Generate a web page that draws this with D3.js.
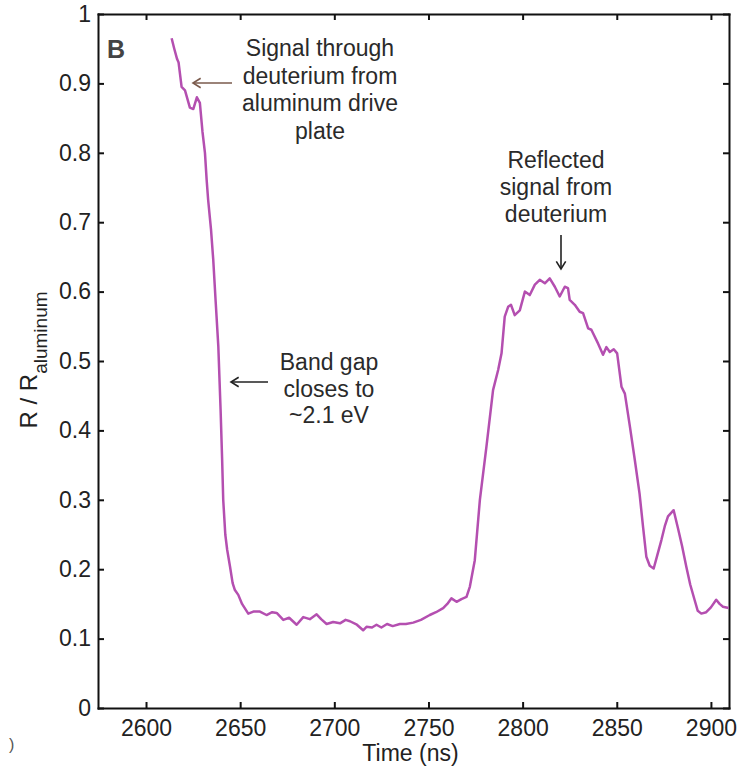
<!DOCTYPE html>
<html>
<head>
<meta charset="utf-8">
<script src="https://cdn.jsdelivr.net/npm/d3@7"></script>
<style>
  body { margin: 0; background: #fff; }
  svg { display: block; font-family: "Liberation Sans", Arial, Helvetica, sans-serif; }
  .axis path, .axis line { stroke: #111; stroke-width: 2; }
  .axis text { font-size: 23px; fill: #222; font-family: "Liberation Sans", Arial, Helvetica, sans-serif; }
  .note { font-size: 23px; fill: #2a2a2a; text-anchor: middle; }
</style>
</head>
<body>
<svg id="chart" width="738" height="768"></svg>
<script>
'use strict';

// trace: time (ns) and R / R_aluminum
var timeNs = [
  2613.6, 2615.0, 2616.5, 2617.3, 2618.9, 2620.7, 2623.3, 2625.1, 2627.0, 2628.6,
  2630.0, 2631.3, 2632.2, 2633.0, 2634.5, 2635.7, 2637.0, 2638.4, 2639.6, 2640.4,
  2641.0, 2642.1, 2643.1, 2644.6, 2646.0, 2647.2, 2649.0, 2651.0, 2654.3, 2657.0,
  2660.5, 2664.0, 2667.0, 2669.4, 2672.9, 2676.0, 2680.0, 2683.5, 2687.0, 2690.6,
  2693.0, 2695.9, 2699.4, 2703.0, 2706.0, 2708.3, 2712.0, 2715.3, 2717.1, 2720.0,
  2722.4, 2725.0, 2728.0, 2731.0, 2734.8, 2738.0, 2741.9, 2746.0, 2750.7, 2754.0,
  2757.8, 2760.0, 2762.2, 2764.9, 2767.5, 2770.2, 2772.0, 2774.6, 2777.3, 2780.8,
  2784.3, 2787.0, 2788.8, 2790.5, 2792.3, 2793.8, 2795.8, 2798.5, 2801.2, 2803.8,
  2806.5, 2809.1, 2811.8, 2814.4, 2817.1, 2819.7, 2822.4, 2824.1, 2825.0, 2827.7,
  2830.3, 2832.1, 2834.8, 2836.5, 2840.1, 2842.7, 2844.5, 2846.3, 2848.4, 2850.2,
  2852.5, 2854.3, 2857.0, 2859.6, 2862.1, 2864.0, 2865.7, 2867.5, 2869.6, 2871.5,
  2873.7, 2875.5, 2877.2, 2880.2, 2882.5, 2884.7, 2886.9, 2889.0, 2891.3, 2893.0,
  2894.9, 2897.5, 2900.0, 2902.8, 2904.6, 2906.4, 2909.4
];
var ratio = [
  0.965, 0.950, 0.935, 0.930, 0.895, 0.890, 0.865, 0.863, 0.880, 0.872,
  0.830, 0.800, 0.761, 0.732, 0.690, 0.646, 0.585, 0.521, 0.430, 0.360,
  0.300, 0.250, 0.228, 0.204, 0.180, 0.170, 0.163, 0.150, 0.136, 0.139,
  0.139, 0.134, 0.138, 0.137, 0.127, 0.130, 0.120, 0.131, 0.128, 0.135,
  0.128, 0.121, 0.124, 0.122, 0.127, 0.125, 0.120, 0.112, 0.117, 0.116,
  0.120, 0.116, 0.121, 0.118, 0.121, 0.121, 0.123, 0.127, 0.134, 0.138,
  0.144, 0.150, 0.158, 0.153, 0.157, 0.160, 0.175, 0.213, 0.300, 0.377,
  0.458, 0.487, 0.511, 0.564, 0.578, 0.581, 0.566, 0.573, 0.600, 0.595,
  0.610, 0.617, 0.612, 0.619, 0.607, 0.593, 0.607, 0.605, 0.588, 0.581,
  0.571, 0.569, 0.547, 0.545, 0.525, 0.509, 0.520, 0.513, 0.517, 0.511,
  0.463, 0.453, 0.405, 0.357, 0.309, 0.260, 0.218, 0.205, 0.201, 0.220,
  0.242, 0.262, 0.276, 0.285, 0.259, 0.233, 0.204, 0.178, 0.156, 0.140,
  0.136, 0.138, 0.145, 0.156, 0.150, 0.146, 0.144
];

var xTicks = [2600, 2650, 2700, 2750, 2800, 2850, 2900];
var yTicks = [0, 0.1, 0.2, 0.3, 0.4, 0.5, 0.6, 0.7, 0.8, 0.9, 1];

// annotations, one entry per text line
var noteSignal = ["Signal through", "deuterium from", "aluminum drive", "plate"];
var noteReflected = ["Reflected", "signal from", "deuterium"];
var noteBandGap = ["Band gap", "closes to", "~2.1 eV"];

var svg = d3.select('#chart');
var margin = {top: 14, right: 9, bottom: 60, left: 98};
var width = 738, height = 768;

var x = d3.scaleLinear()
  .domain([2574.5, 2909.6])
  .range([margin.left, width - margin.right]);

var y = d3.scaleLinear()
  .domain([0, 1])
  .range([height - margin.bottom, margin.top]);

// axes, matlab style box with ticks pointing inward
svg.append("g")
  .attr("class", "axis")
  .attr("transform", "translate(0," + y(0) + ")")
  .call(d3.axisBottom(x).tickValues(xTicks).tickFormat(d3.format("d"))
    .tickSizeInner(-6).tickSizeOuter(0).tickPadding(12));

svg.append("g")
  .attr("class", "axis")
  .attr("transform", "translate(0," + y(1) + ")")
  .call(d3.axisTop(x).tickValues(xTicks).tickFormat("")
    .tickSizeInner(-6).tickSizeOuter(0));

svg.append("g")
  .attr("class", "axis")
  .attr("transform", "translate(" + x.range()[0] + ",0)")
  .call(d3.axisLeft(y).tickValues(yTicks).tickFormat(function(d) { return String(+d.toFixed(1)); })
    .tickSizeInner(-6).tickSizeOuter(0).tickPadding(7));

svg.append("g")
  .attr("class", "axis")
  .attr("transform", "translate(" + x.range()[1] + ",0)")
  .call(d3.axisRight(y).tickValues(yTicks).tickFormat("")
    .tickSizeInner(-6).tickSizeOuter(0));

svg.selectAll(".axis .domain").attr("stroke-linecap", "square");

// the trace
var line = d3.line()
  .x(function(d, i) { return x(timeNs[i]); })
  .y(function(d) { return y(d); });

svg.append("path")
  .datum(ratio)
  .attr("fill", "none")
  .attr("stroke", "#b44fb0")
  .attr("stroke-width", 2.5)
  .attr("stroke-linejoin", "round")
  .attr("d", line);

// axis titles
svg.append("text")
  .attr("x", (x.range()[0] + x.range()[1]) / 2 - 3)
  .attr("y", 761)
  .attr("text-anchor", "middle")
  .attr("font-size", 23)
  .attr("fill", "#222")
  .text("Time (ns)");

var ylab = svg.append("text")
  .attr("transform", "translate(37,360) rotate(-90)")
  .attr("text-anchor", "middle")
  .attr("font-size", 24)
  .attr("fill", "#222");
ylab.append("tspan").text("R / R");
ylab.append("tspan").attr("font-size", 19).attr("dy", 10).text("aluminum");

// panel letter
svg.append("text")
  .attr("x", 107)
  .attr("y", 58)
  .attr("font-size", 25)
  .attr("font-weight", "bold")
  .attr("fill", "#444")
  .text("B");

svg.append("text")
  .attr("x", 9)
  .attr("y", 750)
  .attr("font-size", 16)
  .attr("fill", "#555")
  .text(")");

function note(lines, cx, firstBase, step) {
  var t = svg.append("text").attr("class", "note");
  lines.forEach(function(s, i) {
    t.append("tspan").attr("x", cx).attr("y", firstBase + i * step).text(s);
  });
}

function arrow(x1, y1, x2, y2, color) {
  // x2,y2 is the head
  var a = Math.atan2(y2 - y1, x2 - x1), len = 9, spread = 0.55;
  var g = svg.append("g").attr("stroke", color).attr("stroke-width", 1.6).attr("fill", "none");
  g.append("line").attr("x1", x1).attr("y1", y1).attr("x2", x2).attr("y2", y2);
  g.append("polyline").attr("points", [
    [x2 - len * Math.cos(a - spread), y2 - len * Math.sin(a - spread)],
    [x2, y2],
    [x2 - len * Math.cos(a + spread), y2 - len * Math.sin(a + spread)]
  ].map(function(p) { return p.join(","); }).join(" "));
}

note(noteSignal, 320, 56, 27.7);
arrow(232, 83, 193, 83, "#7a5a4c");

note(noteReflected, 556, 168, 27);
arrow(561, 235, 561, 269, "#222");

note(noteBandGap, 329, 370, 26.5);
arrow(268, 382, 231, 382, "#222");
</script>
</body>
</html>
